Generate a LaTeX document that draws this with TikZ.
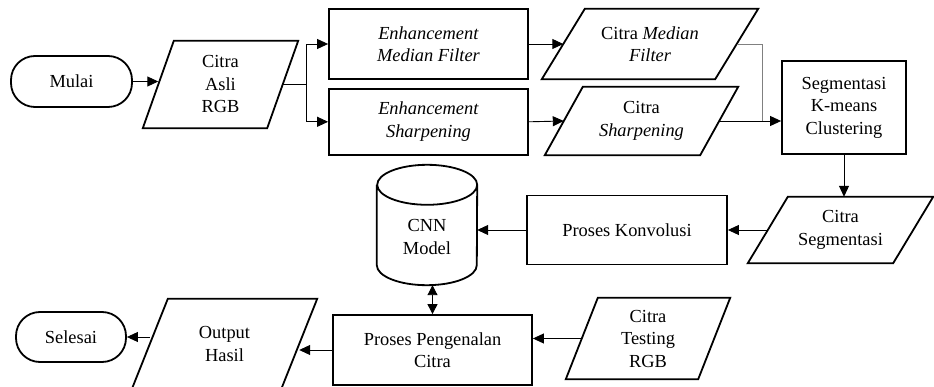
\documentclass[tikz,border=0pt]{standalone}
\usepackage{fontspec}
\setmainfont{Liberation Serif}
\usetikzlibrary{positioning,arrows.meta}

% parallelogram round a named node: #1 node, #2 slant
\newcommand\slantbox[2]{\draw[line width=1.8pt] ([xshift=#2/2]#1.north west) -- ([xshift=#2/2]#1.north east)
  -- ([xshift=-#2/2]#1.south east) -- ([xshift=-#2/2]#1.south west) -- cycle;}

\begin{document}
\begin{tikzpicture}
[x=1pt, y=-1pt, font=\fontsize{18.4}{22.5}\selectfont,
box/.style={draw, line width=1.8pt, inner sep=0pt, align=center},
term/.style={box, rounded corners=24pt},
io/.style={inner sep=0pt, align=center},
line/.style={line width=0.9pt},
arr/.style={line, -{Triangle[length=11pt,width=10pt]}},
both/.style={line, {Triangle[length=10pt,width=10pt]}-{Triangle[length=10pt,width=10pt]}}]
\useasboundingbox (0,0) rectangle (934,387);

% top row
\node[term, minimum width=121pt, minimum height=51pt] (mulai) at (71.5,81.5) {Mulai};
\node[io, minimum width=124pt, minimum height=87pt] (asli) at (220.5,84.5) {Citra\\Asli\\RGB};
\slantbox{asli}{31pt}
\node[box, minimum width=199pt, minimum height=70pt] (emf) at (428.5,44) {\textit{Enhancement}\\\textit{Median Filter}};
\node[box, minimum width=199pt, minimum height=66pt, below=8pt of emf] (esh) {\textit{Enhancement}\\\textit{Sharpening}};
\node[io, minimum width=173pt, minimum height=70pt] (cmf) at (650,44) {Citra \textit{Median}\\\textit{Filter}};
\slantbox{cmf}{43pt}
\node[io, minimum width=155pt, minimum height=68pt] (csh) at (641.5,121) {Citra\\\textit{Sharpening}};
\slantbox{csh}{38pt}
\node[box, minimum width=124pt, minimum height=93pt] (seg) at (844,107.5) {Segmentasi\\K-means\\Clustering};

% middle row
\node[io, minimum width=145pt, minimum height=66pt] (csegm) at (840.5,230) {Citra\\Segmentasi};
\slantbox{csegm}{40pt}
\node[box, minimum width=200pt, minimum height=69pt] (konv) at (627,230) {Proses Konvolusi};
\node[minimum width=100pt, minimum height=120pt, inner sep=0pt] (cnn) at (427,225) {};
\node[align=center] (cnnlbl) at (427,237) {CNN\\Model};
\draw[line width=1.8pt] ([yshift=-20pt]cnn.north west) -- ([yshift=20pt]cnn.south west)
  arc[start angle=180, end angle=360, x radius=50pt, y radius=20pt]
  -- ([yshift=-20pt]cnn.north east)
  arc[start angle=0, end angle=360, x radius=50pt, y radius=20pt];

% bottom row
\node[box, minimum width=199pt, minimum height=70pt] (peng) at (432.5,350) {Proses Pengenalan\\Citra};
\node[io, minimum width=132pt, minimum height=81pt] (test) at (648,338.5) {Citra\\Testing\\RGB};
\slantbox{test}{32pt}
\node[io, minimum width=149pt, minimum height=90pt] (out) at (224.5,344) {Output\\Hasil};
\slantbox{out}{36pt}
\node[term, minimum width=110pt, minimum height=50pt] (sel) at (71,337) {Selesai};

\draw[arr] (mulai.east) -- (mulai.east -| asli.west);
\draw[line] (asli.east) -- ++(24,0) coordinate (split);
\draw[arr] (split) |- (emf.west);
\draw[arr] (split) |- (esh.west);
\draw[arr] (emf.east) -- (cmf.west);
\draw[arr] (esh.east) -- (csh.west);
\coordinate (join) at (762,121);
\draw[line, gray] (cmf.east) -| (join);
\draw[arr] (csh.east) -- (csh.east -| seg.west);
\draw[arr] (seg.south) -- (seg.south |- csegm.north);
\draw[arr] (csegm.west) -- (konv.east);
\draw[arr] (konv.west) -- (konv.west -| cnn.east);
\draw[both] (peng.north |- cnn.south) -- (peng.north);
\draw[arr] (test.west) -- (test.west -| peng.east);
\draw[arr] (peng.west) -- (peng.west -| out.east);
\draw[arr] (out.west |- sel.east) -- (sel.east);
\end{tikzpicture}
\end{document}
